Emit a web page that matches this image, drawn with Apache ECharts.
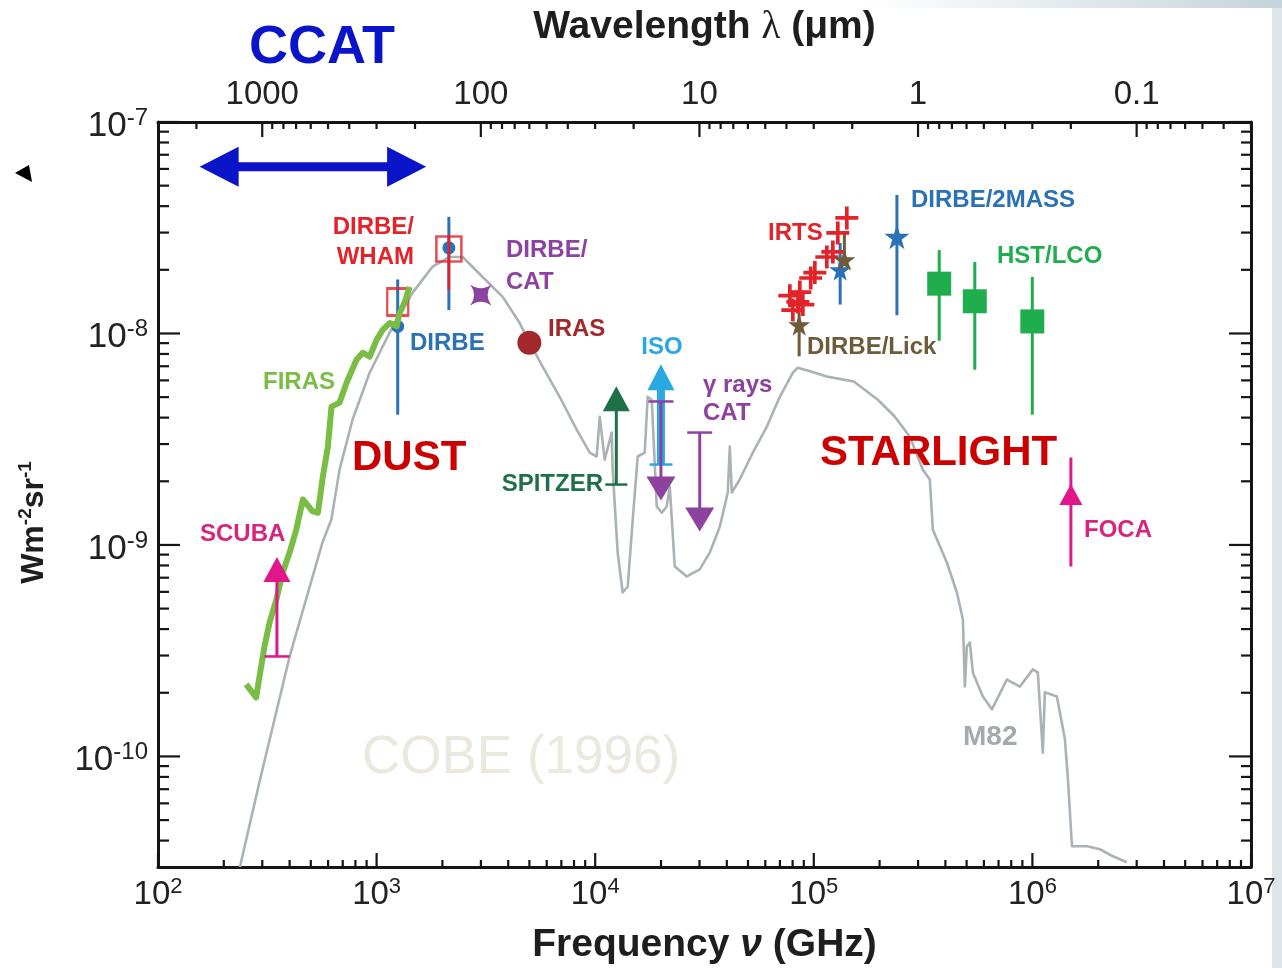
<!DOCTYPE html>
<html><head><meta charset="utf-8">
<script src="https://cdn.jsdelivr.net/npm/echarts@6/dist/echarts.min.js"></script>
<style>html,body{margin:0;padding:0;background:#fff}#c{width:1282px;height:968px}</style>
</head><body><div id="c"></div>
<script>
// ---------- axis tick labels ----------
const freqDecades = [2, 3, 4, 5, 6, 7];           // 10^n GHz
const intensityDecades = [-10, -9, -8, -7];        // 10^n W m^-2 sr^-1
const wavelengthTickLabels = ['1000', '100', '10', '1', '0.1']; // µm (10^3 ... 10^-1)
const C_UM_GHZ = 299792.458;                       // λ[µm] = C / ν[GHz]

// ---------- grey model spectrum [GHz, W m^-2 sr^-1] ----------
const modelCurve = [[237,3.0e-11],[291,7.55e-11],[400,2.97e-10],[566,1.03e-9],[621,1.32e-9],[677,2.27e-9],[776,3.91e-9],[929,6.52e-9],[1147,1.01e-8],[1462,1.56e-8],[1803,2.07e-8],[2158,2.30e-8],[2476,2.30e-8],[3055,1.85e-8],[3775,1.49e-8],[4513,1.12e-8],[5010,9.04e-9],[5751,6.97e-9],[6877,5.02e-9],[8226,3.51e-9],[9440,2.73e-9],[10160,2.62e-9],[10490,4.04e-9],[11050,2.53e-9],[11900,3.40e-9],[12020,2.27e-9],[12670,9.20e-10],[13360,5.96e-10],[14090,6.36e-10],[14850,1.32e-9],[15650,2.62e-9],[16850,2.73e-9],[17380,5.02e-9],[18140,4.86e-9],[19120,1.52e-9],[20160,1.42e-9],[21240,1.52e-9],[21930,1.89e-9],[23120,7.91e-10],[26240,7.10e-10],[30070,7.66e-10],[33420,9.20e-10],[37150,1.22e-9],[40410,1.77e-9],[41270,2.92e-9],[42170,1.77e-9],[45820,2.04e-9],[52580,2.73e-9],[60950,3.62e-9],[69870,5.02e-9],[80130,6.52e-9],[84490,6.89e-9],[97960,6.59e-9],[113500,6.27e-9],[152400,5.93e-9],[196300,4.86e-9],[234900,4.04e-9],[275000,3.25e-9],[315400,2.27e-9],[339500,2.04e-9],[350400,1.18e-9],[406200,8.26e-10],[451400,5.96e-10],[480800,4.45e-10],[491000,2.14e-10],[501300,3.31e-10],[517600,3.46e-10],[534200,2.49e-10],[593400,1.92e-10],[652600,1.67e-10],[764400,2.31e-10],[876900,2.14e-10],[1005000,2.58e-10],[1059000,2.49e-10],[1116000,1.04e-10],[1140000,2.01e-10],[1294000,1.92e-10],[1408000,1.21e-10],[1454000,7.80e-11],[1517000,3.76e-11],[1776000,3.76e-11],[2037000,3.64e-11],[2336000,3.37e-11],[2705000,3.16e-11]];

// ---------- FIRAS spectrum ----------
const firas = [[253,2.19e-10],[281,1.90e-10],[307,3.31e-10],[324,4.30e-10],[348,5.52e-10],[372,7.41e-10],[400,9.20e-10],[429,1.18e-9],[460,1.64e-9],[510,1.44e-9],[539,1.42e-9],[568,2.11e-9],[598,2.90e-9],[622,4.51e-9],[677,4.71e-9],[729,5.85e-9],[809,7.52e-9],[863,8.11e-9],[929,7.76e-9],[1000,9.33e-9],[1066,1.04e-8],[1147,1.12e-8],[1235,1.08e-8],[1274,1.25e-8],[1343,1.40e-8],[1416,1.66e-8]];

// ---------- measurements ----------
// lower limits: [GHz, arrow value, lower end]
const scubaLimit   = [[350, 7.66e-10, 2.97e-10]];
const spitzerLimit = [[12491, 4.91e-9, 1.93e-9]];
const isoLimit     = [[19986, 6.21e-9, 2.40e-9]];
// upper limits (gamma rays / CAT): [GHz, arrow value, upper end]
const gammaCatLimit = [[19986, 1.85e-9, 4.77e-9], [30070, 1.32e-9, 3.40e-9]];
// points with error bars: [GHz, value, low, high]
const dirbeFIR   = [[1249, 1.08e-8, 4.13e-9, 1.80e-8], [2141, 2.54e-8, 1.29e-8, 3.56e-8]];
const dirbeWham  = [[1249, 1.41e-8, 1.41e-8, 1.41e-8], [2141, 2.51e-8, 1.61e-8, 2.92e-8]];
const dirbeCat   = [[2998, 1.52e-8]];
const iras       = [[4997, 9.04e-9]];
const irts       = [[141600,3.52e-8],[128800,2.99e-8],[122200,2.43e-8],[114700,2.30e-8],[101100,1.94e-8],[96800,1.83e-8],[86300,1.57e-8],[77700,1.51e-8],[84500,1.41e-8],[80200,1.29e-8],[89100,1.37e-8]];
const dirbeLick  = [[85700, 1.10e-8, 7.8e-9, 1.35e-8], [138000, 2.23e-8, 2.2e-8, 3.0e-8]];
const dirbeNIR   = [[132000, 2.00e-8, 1.37e-8, 2.68e-8]];
const dirbe2mass = [[240000, 2.87e-8, 1.22e-8, 4.52e-8]];
const hstLco     = [[374700, 1.72e-8, 9.24e-9, 2.48e-8], [545000, 1.42e-8, 6.74e-9, 2.18e-8], [999000, 1.14e-8, 4.13e-9, 1.85e-8]];
const foca       = [[1.5e6, 1.73e-9, 7.91e-10, 2.59e-9]];
// CCAT coverage: [low GHz, high GHz, drawn level]
const ccatRange  = [[155, 1685, 6.15e-8]];

// ---------- helpers ----------
const FONT = 'Liberation Sans, Arial, Helvetica, sans-serif';
const COL = {
  grey:'#abb2b5', firas:'#7abd44', magenta:'#e0168a', blue:'#2a72b5', red:'#e2232a',
  purple:'#8e42a0', iras:'#a3282b', spitzer:'#1d7048', iso:'#2aa8e2', brown:'#6e5b3a',
  hst:'#20ad4e', ccat:'#0a14c8'
};
const STAR5 = 'path://M50,0 L61,35 L98,35 L68,57 L79,91 L50,70 L21,91 L32,57 L2,35 L39,35 Z';
const STAR4 = 'path://M50,0 Q57,43 100,50 Q57,57 50,100 Q43,57 0,50 Q43,43 50,0 Z';
const PLUS  = 'path://M4.2,0H5.8V4.2H10V5.8H5.8V10H4.2V5.8H0V4.2H4.2Z';

function vbar(name, data, loIdx, hiIdx, color, width, z, capLo, capHi) {
  return {
    type: 'custom', name, z, silent: true, clip: false,
    data: data,
    renderItem(params, api) {
      const x = api.value(0);
      const a = api.coord([x, api.value(loIdx)]);
      const b = api.coord([x, api.value(hiIdx)]);
      const ch = [{ type: 'line', shape: { x1: a[0], y1: a[1], x2: b[0], y2: b[1] }, style: { stroke: color, lineWidth: width } }];
      if (capLo) ch.push({ type: 'line', shape: { x1: a[0] - capLo / 2, y1: a[1], x2: a[0] + capLo / 2, y2: a[1] }, style: { stroke: color, lineWidth: 2.5 } });
      if (capHi) ch.push({ type: 'line', shape: { x1: b[0] - capHi / 2, y1: b[1], x2: b[0] + capHi / 2, y2: b[1] }, style: { stroke: color, lineWidth: 2.5 } });
      return { type: 'group', children: ch };
    }
  };
}
function marks(name, data, symbol, size, color, z, extra) {
  return Object.assign({
    type: 'scatter', name, z, silent: true, symbol, symbolSize: size,
    data: data.map(d => [d[0], d[1]]),
    itemStyle: { color: color, opacity: 1 }
  }, extra || {});
}

// tick marks (inside, all four sides)
const lamMin = C_UM_GHZ / 1e7, lamMax = C_UM_GHZ / 100;
const tickData = [];
for (let e = 2; e <= 7; e++) for (let k = 1; k <= 9; k++) {
  const v = k * Math.pow(10, e); if (v <= 1e7 * 1.0001) tickData.push([v, 1e-9, 0, k === 1 ? 1 : 0]);
}
for (let e = -11; e <= -7; e++) for (let k = 1; k <= 9; k++) {
  const v = k * Math.pow(10, e);
  if (v > 3.01e-11 && v <= 1.0001e-7) { tickData.push([1e3, v, 2, k === 1 ? 1 : 0]); tickData.push([1e3, v, 3, k === 1 ? 1 : 0]); }
}
for (let e = -2; e <= 3; e++) for (let k = 1; k <= 9; k++) {
  const lam = k * Math.pow(10, e);
  if (lam >= lamMin && lam <= lamMax) tickData.push([C_UM_GHZ / lam, 1e-9, 1, k === 1 ? 1 : 0]);
}
const tickSeries = {
  type: 'custom', silent: true, z: 10, clip: false, data: tickData,
  renderItem(params, api) {
    const cs = params.coordSys;
    const side = api.value(2), major = api.value(3) === 1;
    const p = api.coord([api.value(0), api.value(1)]);
    let s;
    if (side === 0) { const L = major ? 14 : 7; s = { x1: p[0], y1: cs.y + cs.height, x2: p[0], y2: cs.y + cs.height - L }; }
    else if (side === 1) { const L = major ? 15 : 7; s = { x1: p[0], y1: cs.y, x2: p[0], y2: cs.y + L }; }
    else if (side === 2) { const L = major ? 22 : 11; s = { x1: cs.x, y1: p[1], x2: cs.x + L, y2: p[1] }; }
    else { const L = major ? 22 : 10; s = { x1: cs.x + cs.width, y1: p[1], x2: cs.x + cs.width - L, y2: p[1] }; }
    return { type: 'line', shape: s, style: { stroke: '#151515', lineWidth: 2.2 } };
  }
};

const ccatSeries = {
  type: 'custom', silent: true, z: 8, clip: false, data: ccatRange,
  renderItem(params, api) {
    const y = api.value(2);
    const a = api.coord([api.value(0), y]), b = api.coord([api.value(1), y]);
    const HL = 39, HH = 20;
    return { type: 'group', children: [
      { type: 'line', shape: { x1: a[0] + HL - 2, y1: a[1], x2: b[0] - HL + 2, y2: b[1] }, style: { stroke: COL.ccat, lineWidth: 9 } },
      { type: 'polygon', shape: { points: [[a[0], a[1]], [a[0] + HL, a[1] - HH], [a[0] + HL, a[1] + HH]] }, style: { fill: COL.ccat } },
      { type: 'polygon', shape: { points: [[b[0], b[1]], [b[0] - HL, b[1] - HH], [b[0] - HL, b[1] + HH]] }, style: { fill: COL.ccat } }
    ] };
  }
};

function isDecade(v) { const l = Math.log10(v), e = Math.round(l); return Math.abs(l - e) < 1e-6 ? e : null; }

function txt(text, x, y, color, size, align, weight, family) {
  return { type: 'text', silent: true, z: 20, style: {
    text, x, y, fill: color, font: (weight || 'bold') + ' ' + size + 'px ' + (family || FONT),
    align: align || 'left', verticalAlign: 'middle', textAlign: align || 'left', textVerticalAlign: 'middle'
  } };
}

const option = {
  animation: false,
  backgroundColor: '#ffffff',
  grid: { left: 158, right: 31, top: 122, bottom: 101, containLabel: false, outerBoundsMode: 'none' },
  xAxis: [
    {
      type: 'log', logBase: 10, min: 100, max: 1e7, position: 'bottom',
      name: 'Frequency {i|ν} (GHz)', nameLocation: 'middle', nameGap: 59,
      nameTextStyle: { fontSize: 39, fontWeight: 'bold', color: '#1e1e1e', fontFamily: FONT,
        rich: { i: { fontSize: 39, fontWeight: 'bold', fontStyle: 'italic', color: '#1e1e1e', fontFamily: FONT } } },
      axisLine: { onZero: false, lineStyle: { color: '#151515', width: 3 } },
      axisTick: { show: false }, splitLine: { show: false }, minorTick: { show: false },
      axisLabel: {
        interval: 0, margin: 9, fontSize: 33, lineHeight: 37, color: '#222', fontFamily: FONT,
        showMinLabel: true, showMaxLabel: true,
        rich: { s: { fontSize: 22, fontFamily: FONT, color: '#222', verticalAlign: 'top', lineHeight: 22 } },
        formatter: v => { const e = isDecade(v); return (e !== null && freqDecades.includes(e)) ? '10{s|' + e + '}' : ''; }
      }
    },
    {
      type: 'log', logBase: 10, min: lamMin, max: lamMax, inverse: true, position: 'top',
      name: 'Wavelength {l|λ} (μm)', nameLocation: 'middle', nameGap: 75,
      nameTextStyle: { fontSize: 39, fontWeight: 'bold', color: '#1e1e1e', fontFamily: FONT,
        rich: { l: { fontSize: 39, fontWeight: 'normal', color: '#1e1e1e', fontFamily: 'Liberation Serif, DejaVu Serif, serif' } } },
      axisLine: { onZero: false, lineStyle: { color: '#151515', width: 3 } },
      axisTick: { show: false }, splitLine: { show: false },
      axisLabel: {
        interval: 0, margin: 11, fontSize: 33, color: '#222', fontFamily: FONT,
        showMinLabel: true, showMaxLabel: true,
        formatter: v => { const e = isDecade(v); if (e === null) return ''; return wavelengthTickLabels[3 - e] || ''; }
      }
    }
  ],
  yAxis: [
    {
      type: 'log', logBase: 10, min: 3e-11, max: 1e-7, position: 'left',
      name: 'Wm{s|-2}sr{s|-1}', nameLocation: 'middle', nameGap: 106, nameRotate: 90,
      nameTextStyle: { fontSize: 32, fontWeight: 'bold', color: '#1e1e1e', fontFamily: FONT, lineHeight: 36,
        padding: [0, 56, 0, 0],
        rich: { s: { fontSize: 19, fontWeight: 'bold', color: '#1e1e1e', fontFamily: FONT, verticalAlign: 'top', lineHeight: 18 } } },
      axisLine: { onZero: false, lineStyle: { color: '#151515', width: 3 } },
      axisTick: { show: false }, splitLine: { show: false },
      axisLabel: {
        interval: 0, margin: 10, fontSize: 35, lineHeight: 40, color: '#222', fontFamily: FONT,
        padding: [8, 0, 0, 0],
        showMinLabel: true, showMaxLabel: true,
        rich: { s: { fontSize: 24, fontFamily: FONT, color: '#222', verticalAlign: 'top', lineHeight: 24 } },
        formatter: v => { const e = isDecade(v); return (e !== null && intensityDecades.includes(e)) ? '10{s|' + e + '}' : ''; }
      }
    },
    {
      type: 'log', logBase: 10, min: 3e-11, max: 1e-7, position: 'right',
      axisLine: { show: true, onZero: false, lineStyle: { color: '#151515', width: 3 } },
      axisTick: { show: false }, splitLine: { show: false }, axisLabel: { show: false }
    }
  ],
  series: [
    tickSeries,
    { type: 'line', name: 'model', z: 2, silent: true, data: modelCurve, showSymbol: false, symbol: 'none',
      lineStyle: { color: COL.grey, width: 2.6, join: 'round' } },
    vbar('DIRBE FIR err', dirbeFIR, 2, 3, COL.blue, 3, 3),
    marks('DIRBE FIR', dirbeFIR, 'circle', 13, COL.blue, 3),
    marks('DIRBE/WHAM', dirbeWham, 'rect', (v, p) => p.dataIndex === 0 ? [21, 27] : [25, 25], COL.red, 4,
      { itemStyle: { color: 'rgba(255,255,255,0)', borderColor: COL.red, borderWidth: 2.6 } }),
    vbar('DIRBE/WHAM err', dirbeWham.slice(1), 2, 3, COL.red, 2.6, 4),
    { type: 'line', name: 'FIRAS', z: 5, silent: true, data: firas, showSymbol: false, symbol: 'none',
      lineStyle: { color: COL.firas, width: 6, join: 'round' } },
    vbar('SCUBA', scubaLimit, 2, 1, COL.magenta, 3, 6, 25, 0),
    marks('SCUBA', scubaLimit, 'triangle', [27, 25], COL.magenta, 6),
    marks('DIRBE/CAT', dirbeCat, STAR4, 30, COL.purple, 6, { symbolRotate: 45 }),
    marks('IRAS', iras, 'circle', 24, COL.iras, 6),
    vbar('SPITZER', spitzerLimit, 2, 1, COL.spitzer, 3, 6, 22, 0),
    marks('SPITZER', spitzerLimit, 'triangle', [27, 25], COL.spitzer, 6),
    vbar('ISO', isoLimit, 2, 1, COL.iso, 8, 6, 23, 0),
    marks('ISO', isoLimit, 'triangle', [27, 26], COL.iso, 6),
    vbar('gamma CAT', gammaCatLimit, 1, 2, COL.purple, 3, 7, 0, 25),
    marks('gamma CAT', gammaCatLimit, 'triangle', [29, 24], COL.purple, 7, { symbolRotate: 180 }),
    vbar('DIRBE/Lick err', dirbeLick, 2, 3, COL.brown, 3, 6),
    vbar('DIRBE NIR err', dirbeNIR, 2, 3, COL.blue, 3, 6),
    marks('DIRBE NIR', dirbeNIR, STAR5, 22, COL.blue, 7),
    marks('IRTS', irts, PLUS, 23, COL.red, 8),
    marks('DIRBE/Lick', dirbeLick, STAR5, 22, COL.brown, 9),
    vbar('DIRBE/2MASS err', dirbe2mass, 2, 3, COL.blue, 3, 6),
    marks('DIRBE/2MASS', dirbe2mass, STAR5, 25, COL.blue, 7),
    vbar('HST/LCO err', hstLco, 2, 3, COL.hst, 3, 6),
    marks('HST/LCO', hstLco, 'rect', 24, COL.hst, 7),
    vbar('FOCA err', foca, 2, 3, COL.magenta, 3, 6),
    marks('FOCA', foca, 'triangle', [23, 21], COL.magenta, 7),
    ccatSeries
  ],
  graphic: { elements: [
    { type: 'rect', silent: true, z: -5, shape: { x: 1272, y: 0, width: 10, height: 968 }, style: { fill: '#dfe6ea' } },
    { type: 'rect', silent: true, z: -5, shape: { x: 860, y: 0, width: 422, height: 8 },
      style: { fill: new echarts.graphic.LinearGradient(0, 0, 1, 0, [{ offset: 0, color: 'rgba(200,213,220,0)' }, { offset: 1, color: '#c5d3da' }]) } },
    { type: 'polygon', silent: true, shape: { points: [[15, 173], [29, 165], [32, 182]] }, style: { fill: '#000' } },
    txt('CCAT', 322, 48, COL.ccat, 54, 'center'),
    txt('DIRBE/', 414, 227, COL.red, 24, 'right'),
    txt('WHAM', 414, 257, COL.red, 24, 'right'),
    txt('DIRBE/', 506, 250, COL.purple, 24),
    txt('CAT', 506, 282, COL.purple, 24),
    txt('IRAS', 548, 329, COL.iras, 24),
    txt('DIRBE', 410, 343, COL.blue, 24),
    txt('FIRAS', 263, 382, COL.firas, 24),
    txt('DUST', 352, 458, '#cc0000', 42),
    txt('SCUBA', 200, 534, '#d6247f', 24),
    txt('SPITZER', 603, 484, COL.spitzer, 24, 'right'),
    txt('ISO', 662, 347, COL.iso, 24, 'center'),
    txt('γ rays', 703, 385, COL.purple, 24),
    txt('CAT', 703, 413, COL.purple, 24),
    txt('IRTS', 768, 233, COL.red, 24),
    txt('DIRBE/2MASS', 911, 200, COL.blue, 24),
    txt('HST/LCO', 997, 256, COL.hst, 24),
    txt('DIRBE/Lick', 807, 347, COL.brown, 24),
    txt('STARLIGHT', 820, 453, '#cc0000', 42),
    txt('FOCA', 1084, 530, '#d6247f', 24),
    txt('M82', 963, 737, '#a3a9ac', 28),
    txt('COBE (1996)', 362, 758, '#ebe8de', 53, 'left', 'normal')
  ] }
};

const chart = echarts.init(document.getElementById('c'), null, { renderer: 'canvas', width: 1282, height: 968 });
chart.setOption(option);
</script>
</body></html>
